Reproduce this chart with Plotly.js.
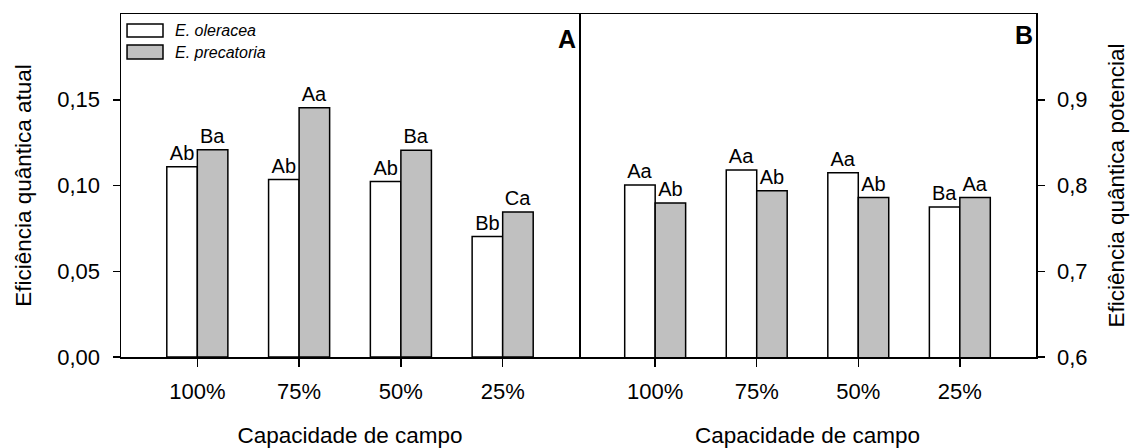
<!DOCTYPE html>
<html>
<head>
<meta charset="utf-8">
<script src="https://cdn.plot.ly/plotly-3.0.1.min.js"></script>
<style>html,body{margin:0;padding:0;background:#fff;}#chart{width:1131px;height:448px;}</style>
</head>
<body>
<div id="chart"></div>
<script>
// ---- data ----
const categories = ['100%', '75%', '50%', '25%'];
const seriesNames = ['E. oleracea', 'E. precatoria'];
// Panel A: Eficiência quântica atual
const oleraceaA = [0.111, 0.1035, 0.1023, 0.0702];
const precatoriaA = [0.1209, 0.1453, 0.1205, 0.0846];
const labelsOleraceaA = ['Ab', 'Ab', 'Ab', 'Bb'];
const labelsPrecatoriaA = ['Ba', 'Aa', 'Ba', 'Ca'];
// Panel B: Eficiência quântica potencial
const oleraceaB = [0.8005, 0.818, 0.815, 0.775];
const precatoriaB = [0.7795, 0.794, 0.786, 0.786];
const labelsOleraceaB = ['Aa', 'Aa', 'Aa', 'Ba'];
const labelsPrecatoriaB = ['Ab', 'Ab', 'Ab', 'Aa'];
const tickValsA = [0, 0.05, 0.10, 0.15];
const tickValsB = [0.6, 0.7, 0.8, 0.9];

// ---- styles ----
const FONT = '"Liberation Sans", Arial, Helvetica, sans-serif';
const whiteFill = '#ffffff';
const greyFill = '#c0c0c0';
const lineStyle = {color: '#000', width: 1.5};
const labelFont = {family: FONT, size: 20, color: '#000'};

function barTrace(name, y, text, fill, xa, ya) {
  return {
    type: 'bar', name: name, x: categories, y: y, text: text,
    textposition: 'outside', textfont: labelFont, constraintext: 'none',
    cliponaxis: false, hoverinfo: 'x+y+name',
    marker: {color: fill, line: lineStyle},
    xaxis: xa, yaxis: ya, showlegend: false
  };
}

const data = [
  barTrace(seriesNames[0], oleraceaA, labelsOleraceaA, whiteFill, 'x', 'y'),
  barTrace(seriesNames[1], precatoriaA, labelsPrecatoriaA, greyFill, 'x', 'y'),
  barTrace(seriesNames[0], oleraceaB, labelsOleraceaB, whiteFill, 'x2', 'y2'),
  barTrace(seriesNames[1], precatoriaB, labelsPrecatoriaB, greyFill, 'x2', 'y2')
];

const tickFont = {family: FONT, size: 22, color: '#000'};
const titleFont = {family: FONT, size: 22.5, color: '#000'};
const split = 458 / 915;

const xCommon = {
  type: 'category', range: [-0.75, 3.75], showline: true, linecolor: '#000', linewidth: 1.5,
  mirror: true, ticks: 'outside', ticklen: 8, tickwidth: 1.5, tickcolor: '#000',
  tickfont: tickFont, ticklabelstandoff: 6, showgrid: false, zeroline: false, fixedrange: true
};

const layout = {
  width: 1131, height: 448,
  margin: {l: 121, r: 95, t: 14, b: 91, pad: 0},
  paper_bgcolor: '#fff', plot_bgcolor: '#fff',
  font: {family: FONT, color: '#000'},
  separators: ',.',
  barmode: 'group', bargap: 0.4, bargroupgap: 0,
  showlegend: false,
  xaxis: Object.assign({}, xCommon, {domain: [0, split], anchor: 'y',
    title: {text: 'Capacidade de campo', font: titleFont, standoff: 24}}),
  xaxis2: Object.assign({}, xCommon, {domain: [split, 1], anchor: 'y2',
    title: {text: 'Capacidade de campo', font: titleFont, standoff: 24}}),
  yaxis: {
    domain: [0, 1], anchor: 'x', range: [0, 0.2], tickvals: tickValsA, tickformat: '.2f',
    showline: true, linecolor: '#000', linewidth: 1.5, mirror: true,
    ticks: 'outside', ticklen: 7, tickwidth: 1.5, tickcolor: '#000', tickfont: tickFont,
    ticklabelstandoff: 8, showgrid: false, zeroline: false, fixedrange: true,
    title: {text: 'Eficiência quântica atual', font: titleFont, standoff: 19}
  },
  yaxis2: {
    domain: [0, 1], anchor: 'x2', side: 'right', range: [0.6, 1.0], tickvals: tickValsB, tickformat: '.1f',
    showline: true, linecolor: '#000', linewidth: 1.5, mirror: false,
    ticks: 'outside', ticklen: 7, tickwidth: 1.5, tickcolor: '#000', tickfont: tickFont,
    ticklabelstandoff: 8, showgrid: false, zeroline: false, fixedrange: true,
    title: {text: 'Eficiência quântica potencial', font: titleFont, standoff: 22}
  },
  shapes: [
    {type: 'rect', xref: 'paper', yref: 'paper', x0: 0.0066, x1: 0.0459, y0: 0.933, y1: 0.971,
     fillcolor: whiteFill, line: lineStyle},
    {type: 'rect', xref: 'paper', yref: 'paper', x0: 0.0066, x1: 0.0459, y0: 0.869, y1: 0.9096,
     fillcolor: greyFill, line: lineStyle}
  ],
  annotations: [
    {xref: 'paper', yref: 'paper', x: 0.0568, y: 0.952, xanchor: 'left', yanchor: 'middle', showarrow: false,
     text: '<i>' + seriesNames[0] + '</i>', font: {family: FONT, size: 16, color: '#000'}},
    {xref: 'paper', yref: 'paper', x: 0.0568, y: 0.889, xanchor: 'left', yanchor: 'middle', showarrow: false,
     text: '<i>' + seriesNames[1] + '</i>', font: {family: FONT, size: 16, color: '#000'}},
    {xref: 'x domain', yref: 'y domain', x: 0.997, y: 0.975, xanchor: 'right', yanchor: 'top', showarrow: false,
     text: '<b>A</b>', font: {family: FONT, size: 25, color: '#000'}},
    {xref: 'x2 domain', yref: 'y2 domain', x: 0.997, y: 0.985, xanchor: 'right', yanchor: 'top', showarrow: false,
     text: '<b>B</b>', font: {family: FONT, size: 25, color: '#000'}}
  ]
};

Plotly.newPlot('chart', data, layout, {staticPlot: true, displayModeBar: false});
</script>
</body>
</html>
